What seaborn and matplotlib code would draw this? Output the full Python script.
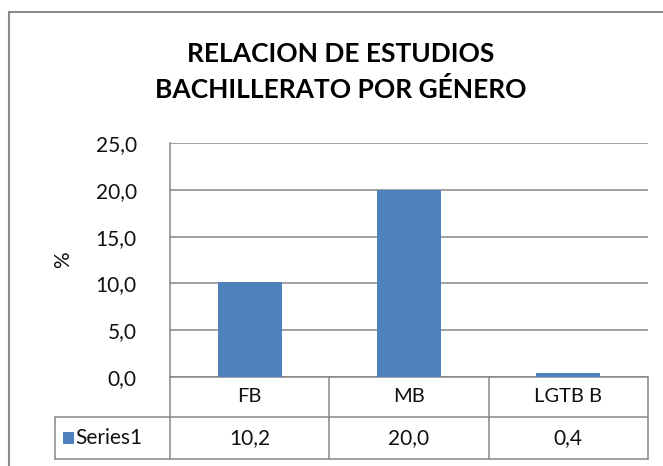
import matplotlib
matplotlib.use("Agg")
import matplotlib.pyplot as plt
import matplotlib.patches as mpatches
from matplotlib.ticker import FuncFormatter
import pandas as pd
import seaborn as sns

# Data
categories = ["FB", "MB", "LGTB B"]
values = [10.2, 20.0, 0.4]
series_name = "Series1"
title_lines = ["RELACION DE ESTUDIOS", "BACHILLERATO POR GÉNERO"]
y_label = "%"
y_ticks = [0, 5, 10, 15, 20, 25]

BAR_COLOR = "#4F81BD"
LINE_COLOR = "#868686"
TEXT_COLOR = "#111111"
FONT = ["Lato", "DejaVu Sans"]

sns.set_theme(style="white")
plt.rcParams["font.family"] = FONT

W, H, DPI = 663, 466, 100
fig = plt.figure(figsize=(W / DPI, H / DPI), dpi=DPI)
fig.patch.set_facecolor("white")


def px_box(left, top, right, bottom):
    return [left / W, 1 - bottom / H, (right - left) / W, (bottom - top) / H]


ax = fig.add_axes(px_box(170, 143, 648, 377))
df = pd.DataFrame({"cat": categories, "val": values})
sns.barplot(data=df, x="cat", y="val", color=BAR_COLOR, width=0.4,
            saturation=1, linewidth=0, ax=ax, zorder=3)

ax.set_xlim(-0.5, len(categories) - 0.5)
ax.set_ylim(0, 25)
ax.set_yticks(y_ticks)
ax.yaxis.set_major_formatter(FuncFormatter(lambda v, p: f"{v:.1f}".replace(".", ",")))
ax.tick_params(axis="y", labelsize=15, colors=TEXT_COLOR, length=0, pad=24)
ax.set_xticks([])
ax.set_xlabel("")
ax.set_ylabel(y_label, fontsize=15, color=TEXT_COLOR, labelpad=16)

ax.grid(axis="y", color=LINE_COLOR, linewidth=1.1, zorder=0)
for side in ["top", "right"]:
    ax.spines[side].set_visible(False)
for side in ["left", "bottom"]:
    ax.spines[side].set_color(LINE_COLOR)
    ax.spines[side].set_linewidth(1.1)

# Data table below the plot area
tr = ax.get_xaxis_transform()
ax_h_px = 377 - 143
row1 = -40 / ax_h_px
row2 = -82 / ax_h_px
px_per_unit = (648 - 170) / len(categories)
label_left = -0.5 - (170 - 55) / px_per_unit
n = len(categories)
lk = dict(color=LINE_COLOR, linewidth=1.1, transform=tr, clip_on=False)

for b in [i - 0.5 for i in range(n + 1)]:
    ax.plot([b, b], [0, row2], **lk)
ax.plot([label_left, label_left], [row1, row2], **lk)
ax.plot([label_left, n - 0.5], [row1, row1], **lk)
ax.plot([label_left, n - 0.5], [row2, row2], **lk)

for i, (c, v) in enumerate(zip(categories, values)):
    ax.text(i, row1 / 2, c, ha="center", va="center", fontsize=14.5,
            color=TEXT_COLOR, transform=tr)
    ax.text(i, (row1 + row2) / 2, f"{v:.1f}".replace(".", ","), ha="center",
            va="center", fontsize=15, color=TEXT_COLOR, transform=tr)

sq_w = 11 / px_per_unit
sq_x = label_left + 8 / px_per_unit
sq_h = 12 / ax_h_px
ax.add_patch(mpatches.Rectangle((sq_x, (row1 + row2) / 2 - sq_h / 2), sq_w, sq_h,
                                facecolor=BAR_COLOR, edgecolor="none",
                                transform=tr, clip_on=False))
ax.text(sq_x + sq_w + 1 / px_per_unit, (row1 + row2) / 2, series_name,
        ha="left", va="center", fontsize=15, color=TEXT_COLOR, transform=tr)

# Title
fig.text(341 / W, 1 - 54 / H, title_lines[0], ha="center", va="center",
         fontsize=19, fontweight="bold", color="black")
fig.text(341 / W, 1 - 89 / H, title_lines[1], ha="center", va="center",
         fontsize=19, fontweight="bold", color="black")

# Chart frame
fig.add_artist(mpatches.Rectangle((9 / W, -0.1), 1.2, 1.1 - 12 / H,
                                  transform=fig.transFigure, fill=False,
                                  edgecolor="#8a8a8a", linewidth=1.5))

fig.savefig("out.png", dpi=DPI)
